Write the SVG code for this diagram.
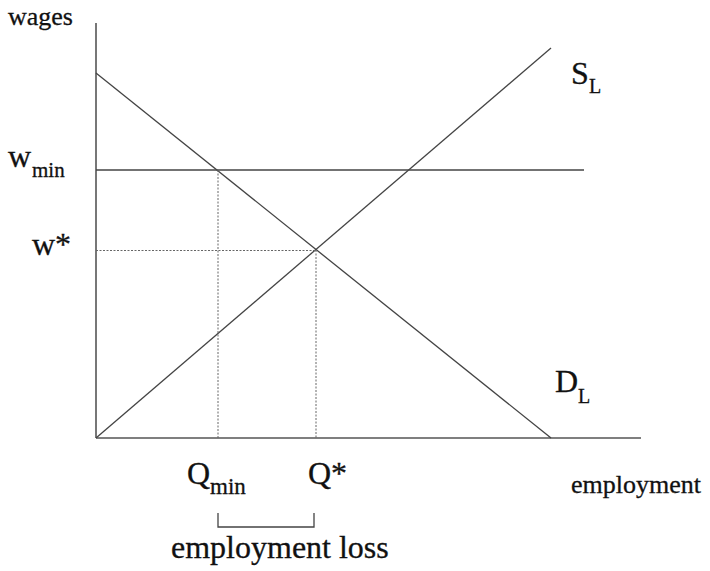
<svg xmlns="http://www.w3.org/2000/svg" width="710" height="571" viewBox="0 0 710 571">
<style>
.ax{stroke:#555;stroke-width:1.6;fill:none}
.ln{stroke:#444;stroke-width:1.3;fill:none}
.dot{stroke:#666;stroke-width:1;stroke-dasharray:2,1.5;fill:none}
text{font-family:"Liberation Serif","Times New Roman",serif;fill:#111;stroke:#111;stroke-width:0.3}
</style>
<rect width="710" height="571" fill="#fff"/>
<g id="axes">
<line class="ax" x1="96" y1="23" x2="96" y2="438"/>
<line class="ax" x1="96" y1="438" x2="641" y2="438"/>
</g>
<g id="connectors">
<line id="demand" class="ln" x1="96" y1="73" x2="551" y2="438"/>
<line id="supply" class="ln" x1="96" y1="438" x2="551" y2="48"/>
<line id="wmin-line" class="ln" x1="96" y1="170" x2="584" y2="170"/>
<line class="dot" x1="96" y1="250.5" x2="316" y2="250.5"/>
<line class="dot" x1="218" y1="170" x2="218" y2="438"/>
<line class="dot" x1="316" y1="250" x2="316" y2="438"/>
<polyline class="ln" points="218,513 218,527 314,527 314,513"/>
</g>
<g id="labels">
<text x="8" y="25" font-size="26">wages</text>
<g id="wmin"><text x="8" y="167" font-size="32">w</text><text x="32" y="177" font-size="21">min</text></g>
<g id="wstar"><text x="32" y="255" font-size="32">w*</text></g>
<g id="qmin"><text x="187" y="484" font-size="32">Q</text><text x="210" y="494" font-size="23">min</text></g>
<g id="qstar"><text x="308" y="484" font-size="32">Q*</text></g>
<text x="171" y="558" font-size="32">employment loss</text>
<text x="571" y="493" font-size="26">employment</text>
<g id="SL"><text x="571" y="84" font-size="32">S</text><text x="589" y="93" font-size="20">L</text></g>
<g id="DL"><text x="555" y="392" font-size="32">D</text><text x="578" y="403" font-size="20">L</text></g>
</g>
</svg>
